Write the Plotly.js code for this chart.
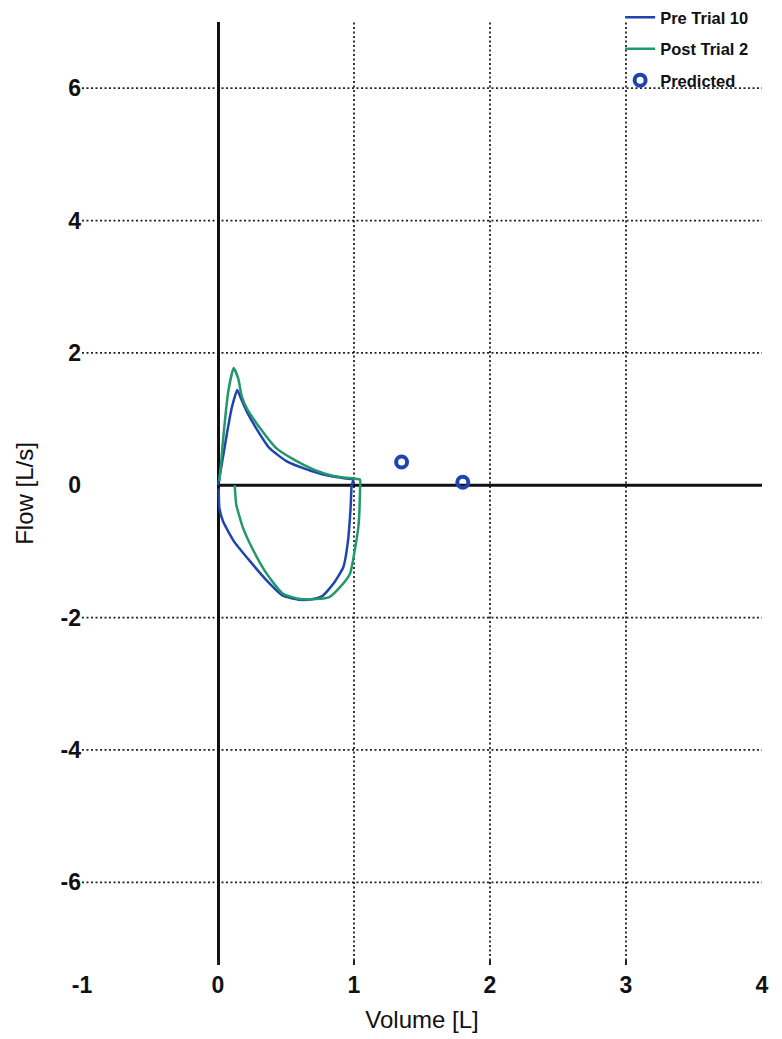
<!DOCTYPE html>
<html>
<head>
<meta charset="utf-8">
<script src="https://cdn.plot.ly/plotly-3.0.1.min.js"></script>
<style>html,body{margin:0;padding:0;background:#fff;}#chart{width:782px;height:1039px;}</style>
</head>
<body>
<div id="chart"></div>
<script>
// Pre Trial 10 (blue) flow-volume loop
var preX = [0.000, 0.027, 0.064, 0.100, 0.142, 0.173, 0.212, 0.281, 0.379, 0.506, 0.652, 0.799, 0.946, 0.995, 0.983, 0.975, 0.956, 0.921, 0.848, 0.770, 0.701, 0.604, 0.477, 0.359, 0.232, 0.115, 0.036, 0.010, 0.005];
var preY = [0.00, 0.31, 0.76, 1.16, 1.44, 1.29, 1.11, 0.86, 0.56, 0.36, 0.24, 0.15, 0.10, 0.085, 0.00, -0.34, -0.84, -1.24, -1.49, -1.67, -1.72, -1.73, -1.67, -1.44, -1.14, -0.84, -0.54, -0.34, -0.05];
// Post Trial 2 (green) flow-volume loop
var postX = [0.010, 0.022, 0.036, 0.075, 0.115, 0.149, 0.173, 0.212, 0.310, 0.428, 0.555, 0.701, 0.848, 0.995, 1.044, 1.044, 1.034, 1.005, 0.970, 0.897, 0.819, 0.721, 0.604, 0.477, 0.359, 0.261, 0.183, 0.134, 0.124, 0.122];
var postY = [0.06, 0.31, 0.66, 1.41, 1.77, 1.61, 1.36, 1.16, 0.86, 0.56, 0.39, 0.24, 0.14, 0.10, 0.085, -0.09, -0.59, -0.99, -1.34, -1.54, -1.69, -1.72, -1.72, -1.64, -1.34, -0.99, -0.64, -0.29, -0.04, 0.00];
// Predicted points
var predX = [1.35, 1.80];
var predY = [0.35, 0.045];
// Axes
var xTicks = [-1, 0, 1, 2, 3, 4];
var yTicks = [-6, -4, -2, 0, 2, 4, 6];
var xGrid = [1, 2, 3];
var yGrid = [-6, -4, -2, 2, 4, 6];
var xRange = [-1.0, 4.0];
var yRange = [-7.25, 7.0];

var FONT = 'Liberation Sans, Arial, sans-serif';
var BLUE = '#1f44b0';
var GREEN = '#22996a';

var traces = [
  {x: preX, y: preY, type: 'scatter', mode: 'lines', name: 'Pre Trial 10', legendgroup: 'a',
   line: {color: BLUE, width: 2.5, shape: 'spline', smoothing: 0.5}},
  {x: postX, y: postY, type: 'scatter', mode: 'lines', name: 'Post Trial 2', legendgroup: 'b',
   line: {color: GREEN, width: 2.5, shape: 'spline', smoothing: 0.5}},
  {x: predX, y: predY, type: 'scatter', mode: 'markers', name: 'Predicted', legendgroup: 'c',
   marker: {symbol: 'circle-open', size: 11, color: BLUE, line: {width: 4, color: BLUE}}}
];

var shapes = [];
xGrid.forEach(function (v) {
  shapes.push({type: 'line', layer: 'below', xref: 'x', yref: 'paper', x0: v, x1: v, y0: 0, y1: 1,
    line: {color: '#222', width: 1.8, dash: '2px,2.5px'}});
});
yGrid.forEach(function (v) {
  shapes.push({type: 'line', layer: 'below', xref: 'paper', yref: 'y', x0: 0, x1: 1, y0: v, y1: v,
    line: {color: '#222', width: 1.8, dash: '2px,2.5px'}});
});
shapes.push({type: 'line', layer: 'below', xref: 'x', yref: 'y', x0: 0, x1: xRange[1], y0: 0, y1: 0,
  line: {color: '#111', width: 3}});

var layout = {
  width: 782, height: 1039,
  margin: {l: 82, r: 20, t: 22, b: 74, autoexpand: false},
  paper_bgcolor: '#fff', plot_bgcolor: '#fff',
  font: {family: FONT, color: '#111'},
  showlegend: true,
  legend: {xref: 'container', yref: 'container', x: 0.793, y: 1.002, xanchor: 'left', yanchor: 'top',
    bgcolor: 'rgba(0,0,0,0)',
    font: {family: FONT, size: 16.5, weight: 'bold', color: '#111'}, tracegroupgap: 7},
  xaxis: {range: xRange, tickvals: xTicks, ticktext: xTicks.map(String), showgrid: false,
    zeroline: true, zerolinecolor: '#111', zerolinewidth: 3, showline: false,
    ticks: 'inside', ticklen: 5, tickwidth: 1.5, tickcolor: '#222', ticklabelstandoff: 4,
    tickfont: {family: FONT, size: 23, weight: 'bold', color: '#111'},
    title: {text: 'Volume [L]', font: {family: FONT, size: 24, color: '#111'}, standoff: 14}},
  yaxis: {range: yRange, tickvals: yTicks, ticktext: yTicks.map(String), showgrid: false,
    zeroline: false, showline: false, ticks: '',
    tickfont: {family: FONT, size: 23, weight: 'bold', color: '#111'},
    title: {text: 'Flow [L/s]', font: {family: FONT, size: 24, color: '#111'}, standoff: 20}},
  shapes: shapes
};

Plotly.newPlot('chart', traces, layout, {displayModeBar: false, staticPlot: true});
</script>
</body>
</html>
